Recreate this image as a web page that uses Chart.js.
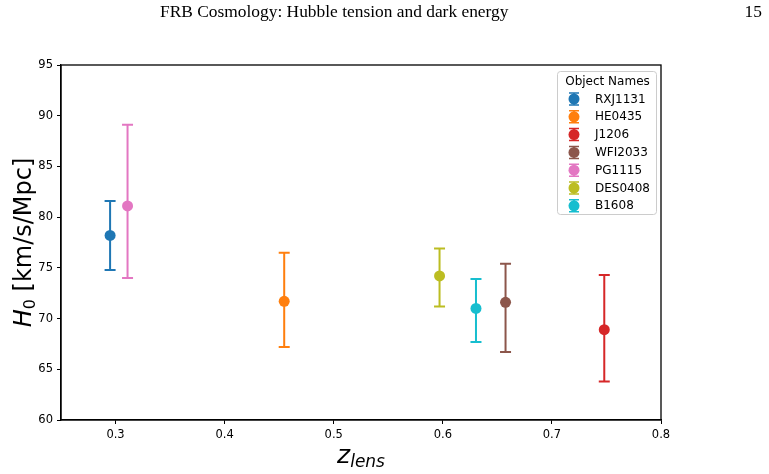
<!DOCTYPE html>
<html>
<head>
<meta charset="utf-8">
<script src="https://cdn.jsdelivr.net/npm/chart.js@4.4.1/dist/chart.umd.min.js"></script>
<style>
    body { margin: 0; background: #fff; }
    #wrap { position: relative; width: 769px; height: 474px; }
    .header { position: absolute; font-family: 'Liberation Serif', 'Times New Roman', serif; font-size: 17.4px; color: #000; top: 1px; }
    #title { left: 160px; }
    #page { right: 7px; }
</style>
</head>
<body>
<div id="wrap">
    <span class="header" id="title">FRB Cosmology: Hubble tension and dark energy</span>
    <span class="header" id="page">15</span>
    <canvas id="chart" width="769" height="474"></canvas>
</div>
<script>
// Data
const objectNames = ['RXJ1131', 'HE0435', 'J1206', 'WFI2033', 'PG1115', 'DES0408', 'B1608'];
const zLens = [0.295, 0.4546, 0.748, 0.6575, 0.311, 0.597, 0.6304];
const h0Values = [78.2, 71.7, 68.9, 71.6, 81.1, 74.2, 71.0];
const errUp = [3.4, 4.8, 5.4, 3.8, 8.0, 2.7, 2.9];
const errDown = [3.4, 4.5, 5.1, 4.9, 7.1, 3.0, 3.3];
const colors = ['#1f77b4', '#ff7f0e', '#d62728', '#8c564b', '#e377c2', '#bcbd22', '#17becf'];
const xTicks = [0.3, 0.4, 0.5, 0.6, 0.7, 0.8];
const yTicks = [60, 65, 70, 75, 80, 85, 90, 95];

const FONT = "'DejaVu Sans', sans-serif";

// One dataset per lens
const datasets = objectNames.map((name, i) => ({
    label: name,
    data: [{ x: zLens[i], y: h0Values[i] }],
    errUp: errUp[i],
    errDown: errDown[i],
    backgroundColor: colors[i],
    borderColor: colors[i],
    pointRadius: 5.5,
    pointHoverRadius: 5.5,
    borderWidth: 0
}));

// Vertical error bars with caps
const errorBars = {
    id: 'errorBars',
    beforeDatasetsDraw(chart) {
        const ctx = chart.ctx;
        const xs = chart.scales.x, ys = chart.scales.y;
        ctx.save();
        ctx.lineWidth = 2;
        chart.data.datasets.forEach(ds => {
            ds.data.forEach(p => {
                const x = xs.getPixelForValue(p.x);
                const top = ys.getPixelForValue(p.y + ds.errUp);
                const bot = ys.getPixelForValue(p.y - ds.errDown);
                ctx.strokeStyle = ds.borderColor;
                ctx.beginPath();
                ctx.moveTo(x, top); ctx.lineTo(x, bot);
                ctx.moveTo(x - 5.5, top); ctx.lineTo(x + 5.5, top);
                ctx.moveTo(x - 5.5, bot); ctx.lineTo(x + 5.5, bot);
                ctx.stroke();
            });
        });
        ctx.restore();
    }
};

// Frame, axis titles and legend
const decorations = {
    id: 'decorations',
    afterDraw(chart) {
        const ctx = chart.ctx;
        const a = chart.chartArea;
        ctx.save();
        // spines
        ctx.strokeStyle = '#000';
        ctx.lineWidth = 1.3;
        ctx.strokeRect(a.left, a.top, a.right - a.left, a.bottom - a.top);

        // y title: H_0 [km/s/Mpc]
        ctx.fillStyle = '#000';
        ctx.textBaseline = 'alphabetic';
        ctx.save();
        ctx.translate(31, (a.top + a.bottom) / 2);
        ctx.rotate(-Math.PI / 2);
        ctx.font = 'italic 24px ' + FONT;
        const wH = ctx.measureText('H').width;
        ctx.font = '16px ' + FONT;
        const w0 = ctx.measureText('0').width;
        ctx.font = '24px ' + FONT;
        const wRest = ctx.measureText(' [km/s/Mpc]').width;
        let x0 = -(wH + w0 + wRest) / 2;
        ctx.textAlign = 'left';
        ctx.font = 'italic 24px ' + FONT;
        ctx.fillText('H', x0, 0);
        ctx.font = '16px ' + FONT;
        ctx.fillText('0', x0 + wH, 4);
        ctx.font = '24px ' + FONT;
        ctx.fillText(' [km/s/Mpc]', x0 + wH + w0, 0);
        ctx.restore();

        // x title: z_lens
        ctx.font = 'italic 25px ' + FONT;
        const wz = ctx.measureText('z').width;
        ctx.font = 'italic 17px ' + FONT;
        const wl = ctx.measureText('lens').width;
        let xs = (a.left + a.right) / 2 - (wz + wl) / 2;
        ctx.textAlign = 'left';
        ctx.font = 'italic 25px ' + FONT;
        ctx.fillText('z', xs, 463);
        ctx.font = 'italic 17px ' + FONT;
        ctx.fillText('lens', xs + wz, 467);

        // legend box
        const lx = 557, ly = 71, lw = 99, lh = 143;
        ctx.fillStyle = 'rgba(255,255,255,0.8)';
        ctx.strokeStyle = '#cccccc';
        ctx.lineWidth = 1;
        ctx.beginPath();
        ctx.roundRect(lx + 0.5, ly + 0.5, lw, lh, 3);
        ctx.fill();
        ctx.stroke();
        ctx.fillStyle = '#000';
        ctx.font = '12px ' + FONT;
        ctx.textAlign = 'center';
        ctx.textBaseline = 'middle';
        ctx.fillText('Object Names', lx + lw / 2 + 1, ly + 11);
        ctx.textAlign = 'left';
        chart.data.datasets.forEach((ds, i) => {
            const cy = ly + 28 + i * 17.8;
            const cx = lx + 17;
            ctx.strokeStyle = ds.borderColor;
            ctx.fillStyle = ds.backgroundColor;
            ctx.lineWidth = 1.5;
            ctx.beginPath();
            ctx.moveTo(cx, cy - 6); ctx.lineTo(cx, cy + 6);
            ctx.moveTo(cx - 5, cy - 6); ctx.lineTo(cx + 5, cy - 6);
            ctx.moveTo(cx - 5, cy + 6); ctx.lineTo(cx + 5, cy + 6);
            ctx.stroke();
            ctx.beginPath();
            ctx.arc(cx, cy, 5.5, 0, Math.PI * 2);
            ctx.fill();
            ctx.fillStyle = '#000';
            ctx.fillText(ds.label, lx + 38, cy + 0.5);
        });
        ctx.restore();
    }
};

new Chart(document.getElementById('chart'), {
    type: 'scatter',
    data: { datasets: datasets },
    options: {
        responsive: false,
        animation: false,
        layout: { padding: { top: 65, right: 108, left: 0, bottom: 0 } },
        plugins: {
            legend: { display: false },
            tooltip: { enabled: false }
        },
        scales: {
            x: {
                type: 'linear',
                min: 0.25,
                max: 0.8,
                afterFit: s => { s.height = 54; },
                afterBuildTicks: s => { s.ticks = xTicks.map(v => ({ value: v })); },
                grid: { drawOnChartArea: false, drawTicks: true, tickLength: 4, color: '#000' },
                border: { display: true, color: '#000', width: 1.3 },
                ticks: {
                    color: '#000',
                    padding: 4,
                    font: { family: FONT, size: 11.5 },
                    maxRotation: 0,
                    callback: v => v.toFixed(1)
                }
            },
            y: {
                type: 'linear',
                min: 60,
                max: 95,
                afterFit: s => { s.width = 61; },
                afterBuildTicks: s => { s.ticks = yTicks.map(v => ({ value: v })); },
                grid: { drawOnChartArea: false, drawTicks: true, tickLength: 4, color: '#000' },
                border: { display: true, color: '#000', width: 1.3 },
                ticks: {
                    color: '#000',
                    padding: 4,
                    font: { family: FONT, size: 11.5 },
                    callback: v => String(v)
                }
            }
        }
    },
    plugins: [errorBars, decorations]
});
</script>
</body>
</html>
